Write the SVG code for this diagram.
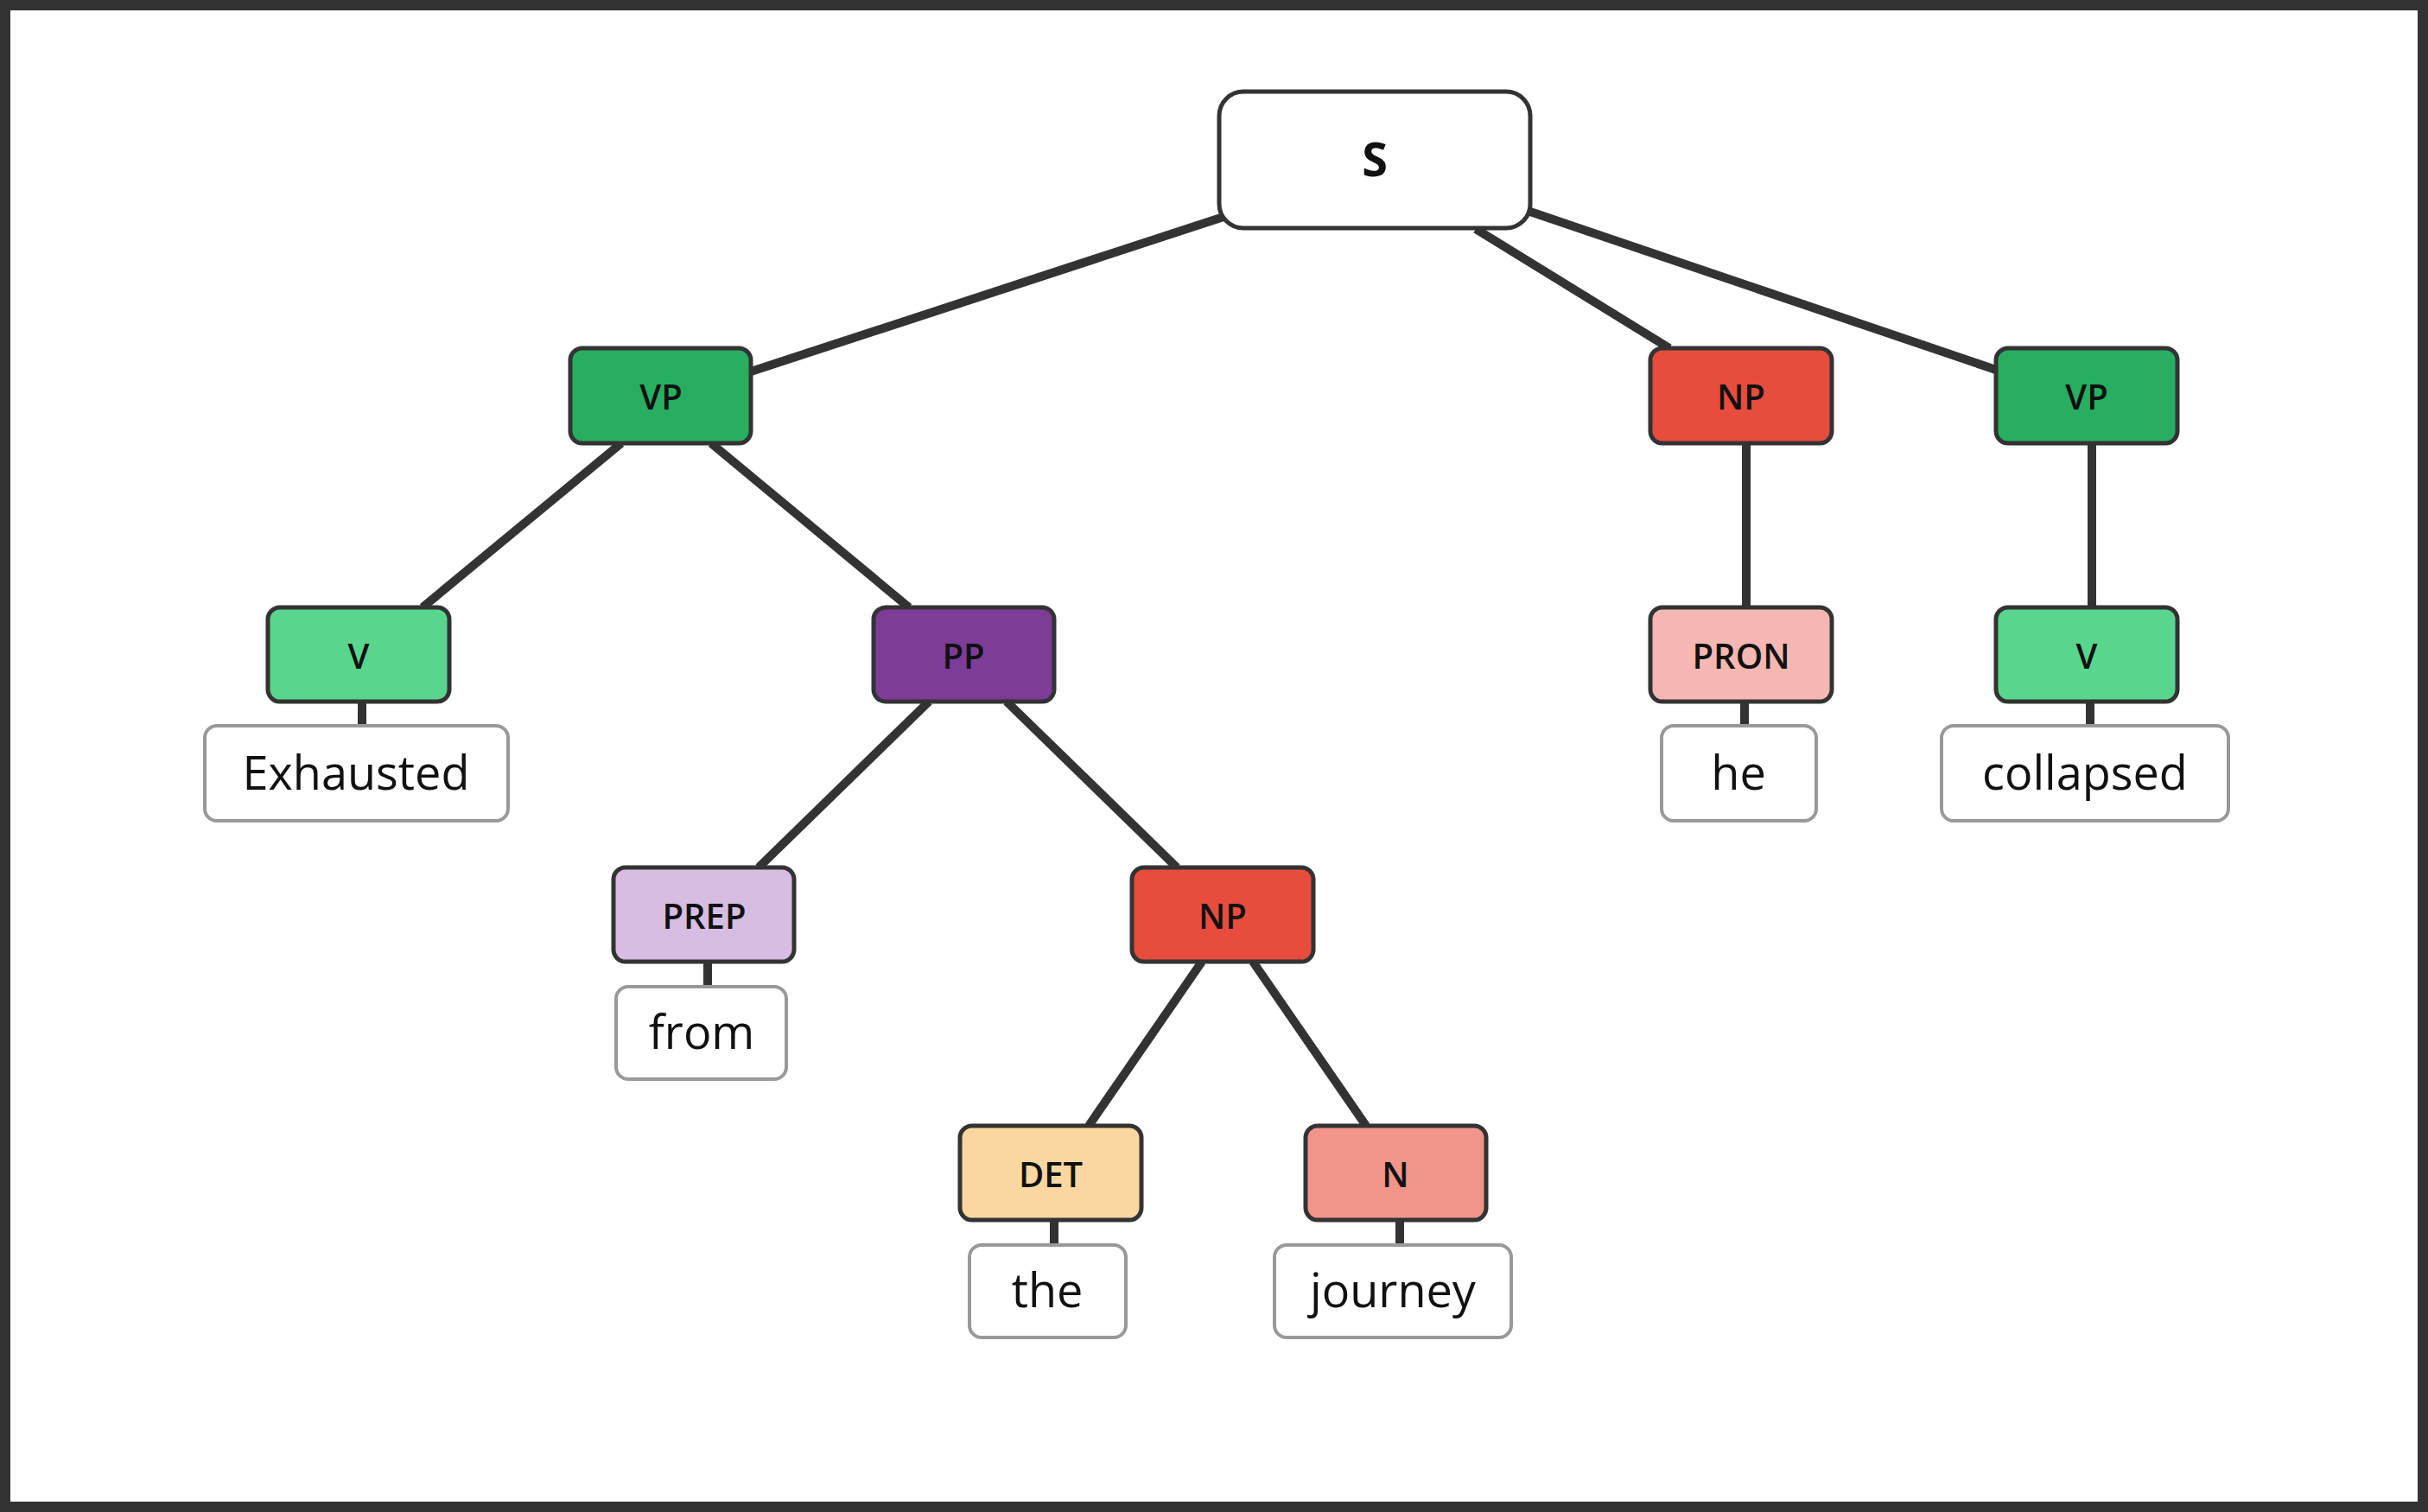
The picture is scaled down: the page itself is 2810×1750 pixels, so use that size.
<svg xmlns="http://www.w3.org/2000/svg" width="2810" height="1750" viewBox="0 0 2810 1750">
<style>
.n{stroke:#333;stroke-width:5}
.w{fill:#fff;stroke:#999;stroke-width:4}
.l{font-family:"Open Sans","Noto Sans",sans-serif;font-size:40px;font-weight:600;text-anchor:middle;dominant-baseline:central;fill:#111}
.t{font-family:"Open Sans","Noto Sans",sans-serif;font-size:54px;text-anchor:middle;dominant-baseline:central;fill:#111}
#edges line{stroke:#333;stroke-width:10}
</style>
<rect x="6" y="6" width="2798" height="1738" fill="#fff" stroke="#333" stroke-width="12"/>
<g id="edges">
<line x1="1416" y1="251" x2="869" y2="430"/>
<line x1="1708" y1="265" x2="1932" y2="403"/>
<line x1="1771" y1="245" x2="2310" y2="428"/>
<line x1="719" y1="513" x2="489" y2="703"/>
<line x1="823" y1="513" x2="1052" y2="703"/>
<line x1="1075" y1="812" x2="878" y2="1004"/>
<line x1="1165" y1="812" x2="1362" y2="1004"/>
<line x1="1391" y1="1113" x2="1260" y2="1303"/>
<line x1="1450" y1="1113" x2="1581" y2="1303"/>
<line x1="2021" y1="513" x2="2021" y2="703"/>
<line x1="2421" y1="513" x2="2421" y2="703"/>
<line x1="419" y1="812" x2="419" y2="840"/>
<line x1="819" y1="1113" x2="819" y2="1142"/>
<line x1="1220" y1="1412" x2="1220" y2="1441"/>
<line x1="1620" y1="1412" x2="1620" y2="1441"/>
<line x1="2019" y1="812" x2="2019" y2="840"/>
<line x1="2419" y1="812" x2="2419" y2="840"/>
</g>
<g id="S"><rect class="n" x="1411" y="106" width="360" height="158" rx="28" fill="#fff"/><text class="l" x="1591" y="183" style="font-size:54px;font-weight:700">S</text></g>
<g id="VP1"><rect class="n" x="660" y="403" width="209" height="110" rx="14" fill="#27ae60"/><text class="l" x="765" y="458">VP</text></g>
<g id="V1"><rect class="n" x="310" y="703" width="210" height="109" rx="14" fill="#58d68d"/><text class="l" x="415" y="758">V</text></g>
<g id="W1"><rect class="w" x="237" y="840" width="351" height="110" rx="14"/><text class="t" x="412" y="893">Exhausted</text></g>
<g id="PP"><rect class="n" x="1011" y="703" width="209" height="109" rx="14" fill="#7d3c98"/><text class="l" x="1115" y="758">PP</text></g>
<g id="PREP"><rect class="n" x="710" y="1004" width="209" height="109" rx="14" fill="#d7bde2"/><text class="l" x="815" y="1059">PREP</text></g>
<g id="W2"><rect class="w" x="713" y="1142" width="197" height="107" rx="14"/><text class="t" x="812" y="1193">from</text></g>
<g id="NP2"><rect class="n" x="1310" y="1004" width="210" height="109" rx="14" fill="#e74c3c"/><text class="l" x="1415" y="1059">NP</text></g>
<g id="DET"><rect class="n" x="1111" y="1303" width="210" height="109" rx="14" fill="#fad7a0"/><text class="l" x="1216" y="1358">DET</text></g>
<g id="W3"><rect class="w" x="1122" y="1441" width="181" height="107" rx="14"/><text class="t" x="1212" y="1492">the</text></g>
<g id="N"><rect class="n" x="1511" y="1303" width="209" height="109" rx="14" fill="#f1948a"/><text class="l" x="1615" y="1358">N</text></g>
<g id="W4"><rect class="w" x="1475" y="1441" width="274" height="107" rx="14"/><text class="t" x="1612" y="1492">journey</text></g>
<g id="NP1"><rect class="n" x="1910" y="403" width="210" height="110" rx="14" fill="#e74c3c"/><text class="l" x="2015" y="458">NP</text></g>
<g id="PRON"><rect class="n" x="1910" y="703" width="210" height="109" rx="14" fill="#f5b7b1"/><text class="l" x="2015" y="758">PRON</text></g>
<g id="W5"><rect class="w" x="1923" y="840" width="179" height="110" rx="14"/><text class="t" x="2012" y="893">he</text></g>
<g id="VP2"><rect class="n" x="2310" y="403" width="210" height="110" rx="14" fill="#27ae60"/><text class="l" x="2415" y="458">VP</text></g>
<g id="V2"><rect class="n" x="2310" y="703" width="210" height="109" rx="14" fill="#58d68d"/><text class="l" x="2415" y="758">V</text></g>
<g id="W6"><rect class="w" x="2247" y="840" width="332" height="110" rx="14"/><text class="t" x="2413" y="893">collapsed</text></g>
</svg>
